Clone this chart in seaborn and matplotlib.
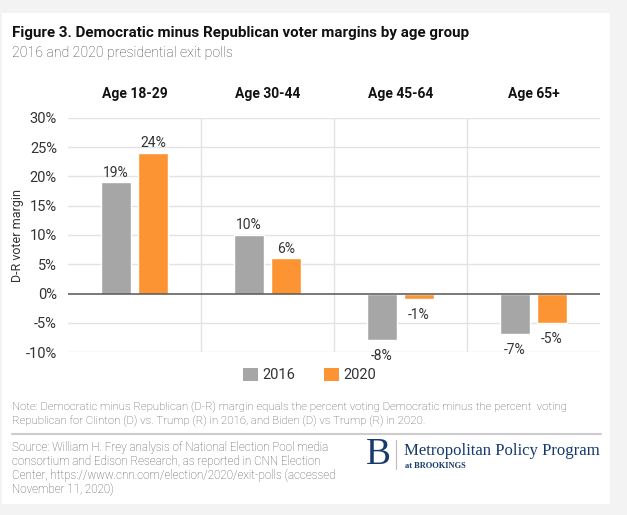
import matplotlib
matplotlib.use("Agg")
import matplotlib.pyplot as plt
import seaborn as sns
import pandas as pd
from matplotlib.patches import Rectangle, Patch
from matplotlib.lines import Line2D

age_groups = ["Age 18-29", "Age 30-44", "Age 45-64", "Age 65+"]
years = ["2016", "2020"]
margin_2016 = [19, 10, -8, -7]
margin_2020 = [24, 6, -1, -5]
y_ticks = [-10, -5, 0, 5, 10, 15, 20, 25, 30]

df = pd.DataFrame({
    "age": age_groups * 2,
    "year": [years[0]] * 4 + [years[1]] * 4,
    "margin": margin_2016 + margin_2020,
})

sns.set_theme(style="white")
plt.rcParams["font.family"] = ["Roboto", "DejaVu Sans"]

W, H = 627, 515
fig = plt.figure(figsize=(W / 100, H / 100), dpi=100)
fig.patch.set_facecolor("#f3f3f3")
fig.patches.append(Rectangle((2 / W, 1 - 504 / H), 608 / W, 491 / H,
                             transform=fig.transFigure, facecolor="white",
                             edgecolor="none", zorder=-10))

def fy(y):
    return 1 - y / H

ax = fig.add_axes([68 / W, fy(352), 532 / W, 234 / H])
ax.set_zorder(2)
ax.set_facecolor("none")
colors = {"2016": "#a6a6a6", "2020": "#fd9433"}
sns.barplot(data=df, x="age", y="margin", hue="year", palette=colors,
            width=0.56, gap=0.21, ax=ax, legend=False, saturation=1, zorder=3)

ax.set_ylim(-10, 30)
ax.set_xlim(-0.5, 3.5)
ax.set_yticks(y_ticks)
ax.set_yticklabels([f"{t}%" for t in y_ticks], fontsize=10.5, color="#333333")
for t in y_ticks:
    if t != 0:
        ax.axhline(t, color="#e3e3e3", lw=1, zorder=1)
ax.axhline(0, color="#555555", lw=1.1, zorder=4)
for xv in [0.5, 1.5, 2.5]:
    ax.axvline(xv, color="#e3e3e3", lw=1, zorder=1)
for s in ax.spines.values():
    s.set_visible(False)
ax.tick_params(axis="y", length=0, pad=8)
ax.xaxis.tick_top()
ax.tick_params(axis="x", length=0, pad=12)
ax.set_xticks(range(4))
ax.set_xticklabels(age_groups, fontsize=10, fontweight="bold", color="#111111")
ax.set_xlabel("")
ax.set_ylabel("D-R voter margin", fontsize=9, color="#333333")
ax.yaxis.set_label_coords(-44 / 532, 0.5)

for cont in ax.containers:
    vals = cont.datavalues
    ax.bar_label(cont, labels=[f"{v:.0f}%" if v >= 0 else "" for v in vals],
                 padding=2, fontsize=10, color="#333333")
    ax.bar_label(cont, labels=[f"{v:.0f}%" if v < 0 else "" for v in vals],
                 padding=6.5, fontsize=10, color="#333333")

handles = [Patch(facecolor=colors[y], edgecolor="none") for y in years]
fig.legend(handles, years, loc="center left", bbox_to_anchor=(230 / W, fy(375)),
           ncol=2, frameon=False, fontsize=10.5, handlelength=1.0, handleheight=1.0,
           handletextpad=0.35, columnspacing=1.95, labelcolor="#333333")

fig.text(12 / W, fy(33), "Figure 3. Democratic minus Republican voter margins by age group",
         fontsize=10.9, fontweight="bold", color="#111111", va="center", ha="left")
fig.text(12 / W, fy(53), "2016 and 2020 presidential exit polls",
         fontsize=10.2, fontweight="light", color="#444444", va="center", ha="left")

fig.text(12 / W, fy(407), "Note: Democratic minus Republican (D-R) margin equals the percent voting Democratic minus the percent  voting",
         fontsize=8.2, fontweight="light", color="#555555", va="center", ha="left")
fig.text(12 / W, fy(421), "Republican for Clinton (D) vs. Trump (R) in 2016, and Biden (D) vs Trump (R) in 2020.",
         fontsize=8.2, fontweight="light", color="#555555", va="center", ha="left")
fig.add_artist(Line2D([12 / W, 601 / W], [fy(434), fy(434)], color="#cccccc", lw=1.5))
src = ["Source: William H. Frey analysis of National Election Pool media",
       "consortium and Edison Research, as reported in CNN Election",
       "Center, https://www.cnn.com/election/2020/exit-polls (accessed",
       "November 11, 2020)"]
for i, line in enumerate(src):
    fig.text(12 / W, fy(448 + i * 13.8), line, fontsize=8.4, fontweight="light",
             color="#555555", va="center", ha="left")

navy = "#163a6b"
fig.text(378 / W, fy(455), "B", fontsize=27, family=["Liberation Serif", "DejaVu Serif"],
         color=navy, ha="center", va="center")
fig.add_artist(Line2D([396 / W, 396 / W], [fy(440), fy(469)], color="#bbbbbb", lw=0.8))
fig.text(404 / W, fy(451), "Metropolitan Policy Program", fontsize=12.1,
         family=["Liberation Serif", "DejaVu Serif"], color=navy, ha="left", va="center")
fig.text(405 / W, fy(466), "at BROOKINGS", fontsize=6, fontweight="bold",
         family=["Liberation Serif", "DejaVu Serif"], color=navy, ha="left", va="center")

fig.savefig("out.png", dpi=100, facecolor=fig.get_facecolor())
